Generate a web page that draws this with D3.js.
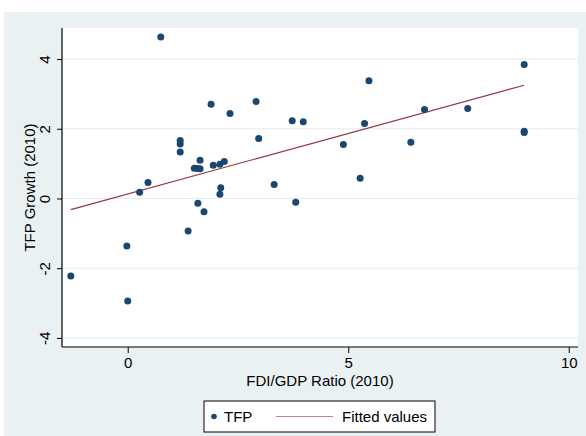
<!DOCTYPE html>
<html>
<head>
<meta charset="utf-8">
<script src="https://cdn.jsdelivr.net/npm/d3@7"></script>
<style>
  body { margin: 0; background: #fff; }
  text { font-family: "Liberation Sans", Arial, sans-serif; }
</style>
</head>
<body>
<div id="chart"></div>
<script>
// data
var fdiRatio = [0.75, 1.89, 2.91, 2.32, 3.73, 2.97, 1.19, 1.19, 1.19, 1.64,
  1.51, 1.58, 1.64, 1.94, 2.09, 2.19, 2.11, 2.09, 3.32, 0.46,
  0.27, 1.59, 1.73, 1.37, -0.02, -1.29, 0.00, 3.81, 8.99, 5.47,
  3.98, 6.73, 7.71, 5.37, 8.99, 8.99, 4.89, 6.42, 5.27];
var tfpGrowth = [4.63, 2.70, 2.78, 2.44, 2.23, 1.72, 1.66, 1.56, 1.33, 1.10,
  0.87, 0.86, 0.85, 0.95, 0.98, 1.06, 0.31, 0.12, 0.40, 0.46,
  0.18, -0.14, -0.38, -0.93, -1.36, -2.22, -2.94, -0.11, 3.84, 3.38,
  2.20, 2.55, 2.58, 2.15, 1.93, 1.89, 1.55, 1.61, 0.58];
var fitX = [-1.29, 8.99];
var fitY = [-0.32, 3.25];
var xTicks = [0, 5, 10];
var yTicks = [-4, -2, 0, 2, 4];
var xTitle = "FDI/GDP Ratio (2010)";
var yTitle = "TFP Growth (2010)";
var legendLabels = ["TFP", "Fitted values"];

var width = 586, height = 436;
var margin = { top: 28, right: 8, bottom: 89, left: 62 };
var plotW = width - margin.left - margin.right;
var plotH = height - margin.top - margin.bottom;

var bgColor = "#eaf1f3";
var gridColor = "#e3ecef";
var dotColor = "#1a476f";
var lineColor = "#90353b";
var fontSize = "15px";

var svg = d3.select("#chart").append("svg")
  .attr("width", width)
  .attr("height", height);

// graph region
svg.append("rect")
  .attr("x", 4).attr("y", 12)
  .attr("width", width - 4).attr("height", height - 12)
  .attr("fill", bgColor);

var g = svg.append("g")
  .attr("transform", "translate(" + margin.left + "," + margin.top + ")");

g.append("rect")
  .attr("width", plotW).attr("height", plotH)
  .attr("fill", "#fff");

var x = d3.scaleLinear().domain([-1.49, 10.21]).range([0, plotW]);
var y = d3.scaleLinear().domain([-4.26, 4.89]).range([plotH, 0]);

// gridlines
g.selectAll("line.grid")
  .data(yTicks)
  .enter().append("line")
  .attr("class", "grid")
  .attr("x1", 0).attr("x2", plotW)
  .attr("y1", function (d) { return y(d); })
  .attr("y2", function (d) { return y(d); })
  .attr("stroke", gridColor)
  .attr("stroke-width", 1);

// fitted line
var fit = fitX.map(function (d, i) { return [d, fitY[i]]; });
g.append("path")
  .datum(fit)
  .attr("fill", "none")
  .attr("stroke", lineColor)
  .attr("stroke-width", 1.1)
  .attr("d", d3.line()
    .x(function (d) { return x(d[0]); })
    .y(function (d) { return y(d[1]); }));

// points
g.selectAll("circle.pt")
  .data(fdiRatio)
  .enter().append("circle")
  .attr("class", "pt")
  .attr("cx", function (d) { return x(d); })
  .attr("cy", function (d, i) { return y(tfpGrowth[i]); })
  .attr("r", 3.5)
  .attr("fill", dotColor);

// axes (stata writes a plain hyphen for negatives)
var fmt = function (d) { return String(d); };
var xAxis = g.append("g")
  .attr("transform", "translate(0," + plotH + ")")
  .call(d3.axisBottom(x).tickValues(xTicks).tickSize(6).tickPadding(4).tickFormat(fmt));
var yAxis = g.append("g")
  .call(d3.axisLeft(y).tickValues(yTicks).tickSize(5).tickPadding(4).tickFormat(fmt));

[xAxis, yAxis].forEach(function (a) {
  a.select(".domain").attr("stroke", "#000").attr("stroke-width", 1.2);
  a.selectAll(".tick line").attr("stroke", "#000");
  a.selectAll(".tick text")
    .attr("fill", "#000")
    .style("font-size", fontSize)
    .style("font-family", "'Liberation Sans', Arial, sans-serif");
});
xAxis.select(".domain").attr("d", "M0,0H" + plotW);
yAxis.select(".domain").attr("d", "M0,0V" + plotH);

// rotated y tick labels
yAxis.selectAll(".tick text")
  .attr("text-anchor", "middle")
  .attr("dy", null)
  .attr("x", null)
  .attr("transform", "translate(-12,0) rotate(-90)")
  .attr("y", 0);

// axis titles
svg.append("text")
  .attr("x", margin.left + plotW / 2)
  .attr("y", 386)
  .attr("text-anchor", "middle")
  .style("font-size", fontSize)
  .text(xTitle);

svg.append("text")
  .attr("transform", "translate(35," + (margin.top + plotH / 2) + ") rotate(-90)")
  .attr("text-anchor", "middle")
  .style("font-size", fontSize)
  .text(yTitle);

// legend
var leg = svg.append("g").attr("transform", "translate(204,401)");
leg.append("rect")
  .attr("width", 231).attr("height", 31)
  .attr("fill", "#fff")
  .attr("stroke", "#000")
  .attr("stroke-width", 1);
leg.append("circle")
  .attr("cx", 10).attr("cy", 15.5).attr("r", 2.8)
  .attr("fill", dotColor);
leg.append("text")
  .attr("x", 20).attr("y", 21)
  .style("font-size", fontSize)
  .text(legendLabels[0]);
leg.append("line")
  .attr("x1", 72).attr("x2", 129)
  .attr("y1", 15.5).attr("y2", 15.5)
  .attr("stroke", lineColor)
  .attr("stroke-opacity", 0.6)
  .attr("stroke-width", 1.2);
leg.append("text")
  .attr("x", 138).attr("y", 21)
  .style("font-size", fontSize)
  .text(legendLabels[1]);
</script>
</body>
</html>
